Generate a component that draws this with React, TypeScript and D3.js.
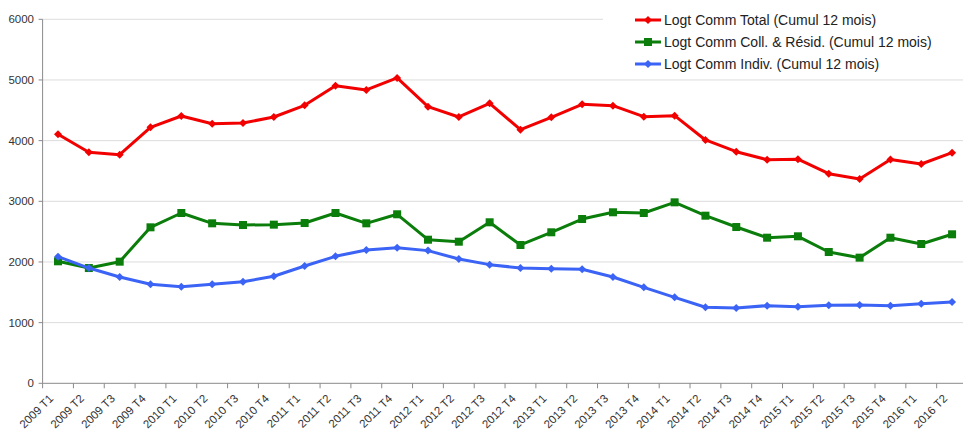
import React from "react";
import * as d3 from "d3";

const categories = [
  "2009 T1", "2009 T2", "2009 T3", "2009 T4",
  "2010 T1", "2010 T2", "2010 T3", "2010 T4",
  "2011 T1", "2011 T2", "2011 T3", "2011 T4",
  "2012 T1", "2012 T2", "2012 T3", "2012 T4",
  "2013 T1", "2013 T2", "2013 T3", "2013 T4",
  "2014 T1", "2014 T2", "2014 T3", "2014 T4",
  "2015 T1", "2015 T2", "2015 T3", "2015 T4",
  "2016 T1", "2016 T2",
];

const totalValues = [
  4104, 3808, 3768, 4219, 4406, 4279, 4290, 4390, 4582, 4906,
  4835, 5033, 4560, 4390, 4615, 4181, 4384, 4599, 4577, 4395,
  4412, 4011, 3818, 3686, 3695, 3455, 3368, 3690, 3615, 3802,
];

const collValues = [
  2011, 1900, 2005, 2571, 2807, 2637, 2609, 2615, 2642, 2807,
  2637, 2786, 2367, 2334, 2654, 2280, 2489, 2708, 2819, 2807,
  2983, 2763, 2576, 2400, 2423, 2164, 2071, 2400, 2296, 2456,
];

const indivValues = [
  2088, 1900, 1752, 1632, 1593, 1632, 1675, 1764, 1934, 2093,
  2198, 2236, 2187, 2049, 1956, 1900, 1890, 1879, 1752, 1582,
  1417, 1253, 1242, 1280, 1263, 1286, 1291, 1280, 1313, 1341,
];

const yTicks = [0, 1000, 2000, 3000, 4000, 5000, 6000];

const seriesNames = [
  "Logt Comm Total (Cumul 12 mois)",
  "Logt Comm Coll. & Résid. (Cumul 12 mois)",
  "Logt Comm Indiv. (Cumul 12 mois)",
];

const W = 963;
const H = 433;
const left = 42.6;
const bandW = 30.83;
const top = 19.3;
const bottom = 383.3;

const series = [
  { name: seriesNames[0], values: totalValues, color: "#f20000", marker: "diamond" },
  { name: seriesNames[1], values: collValues, color: "#0a7d0a", marker: "square" },
  { name: seriesNames[2], values: indivValues, color: "#3b63f5", marker: "diamond" },
];

export default function App() {
  const x = d3
    .scaleBand<string>()
    .domain(categories)
    .range([left, left + bandW * categories.length])
    .paddingInner(0)
    .paddingOuter(0);
  const y = d3.scaleLinear().domain([0, 6000]).range([bottom, top]);
  const cx = (c: string) => (x(c) as number) + x.bandwidth() / 2;

  const line = d3
    .line<number>()
    .x((_, i) => cx(categories[i]))
    .y((v) => y(v));

  const font = "'Liberation Sans', Arial, sans-serif";

  const drawMarker = (kind: string, px: number, py: number, color: string, key: string) => {
    if (kind === "square") {
      return <rect key={key} x={px - 4} y={py - 4} width={8} height={8} fill={color} />;
    }
    const s = 4;
    return (
      <path
        key={key}
        d={`M${px},${py - s}L${px + s},${py}L${px},${py + s}L${px - s},${py}Z`}
        fill={color}
      />
    );
  };

  const legendRows = [20, 42, 64];

  return (
    <svg
      width={W}
      height={H}
      style={{ position: "absolute", left: 0, top: 0, background: "#fff" }}
      fontFamily={font}
    >
      {/* gridlines */}
      {yTicks.map((t) =>
        t === 0 ? null : (
          <line key={"g" + t} x1={left} x2={W} y1={y(t)} y2={y(t)} stroke="#dcdcdc" strokeWidth={1} />
        )
      )}
      {/* y axis */}
      <line x1={left} x2={left} y1={top} y2={bottom} stroke="#8a8a8a" strokeWidth={1} />
      {yTicks.map((t) => (
        <g key={"yt" + t}>
          <line x1={left - 4} x2={left} y1={y(t)} y2={y(t)} stroke="#8a8a8a" />
          <text x={34} y={y(t) + 4} textAnchor="end" fontSize={11.5} fill="#333">
            {t}
          </text>
        </g>
      ))}
      {/* x axis */}
      <line x1={left} x2={W} y1={bottom} y2={bottom} stroke="#8a8a8a" strokeWidth={1} />
      {categories.map((c) => (
        <g key={"xt" + c}>
          <line
            x1={(x(c) as number)}
            x2={(x(c) as number)}
            y1={bottom}
            y2={bottom + 5}
            stroke="#8a8a8a"
          />
          <text
            transform={`translate(${cx(c) - 4},${bottom + 16}) rotate(-45)`}
            textAnchor="end"
            fontSize={11.5}
            fill="#333"
          >
            {c}
          </text>
        </g>
      ))}
      {/* series */}
      {series.map((s, si) => (
        <g key={"s" + si}>
          <path d={line(s.values) || ""} fill="none" stroke={s.color} strokeWidth={3} strokeLinejoin="round" />
          {s.values.map((v, i) => drawMarker(s.marker, cx(categories[i]), y(v), s.color, `m${si}-${i}`))}
        </g>
      ))}
      {/* legend */}
      <rect x={603} y={4} width={W - 603} height={72} fill="#fff" />
      {series.map((s, si) => (
        <g key={"l" + si}>
          <line x1={635} x2={661} y1={legendRows[si]} y2={legendRows[si]} stroke={s.color} strokeWidth={3} />
          {drawMarker(s.marker, 648, legendRows[si], s.color, "lm" + si)}
          <text x={664} y={legendRows[si] + 5} fontSize={14} fill="#222">
            {s.name}
          </text>
        </g>
      ))}
    </svg>
  );
}
